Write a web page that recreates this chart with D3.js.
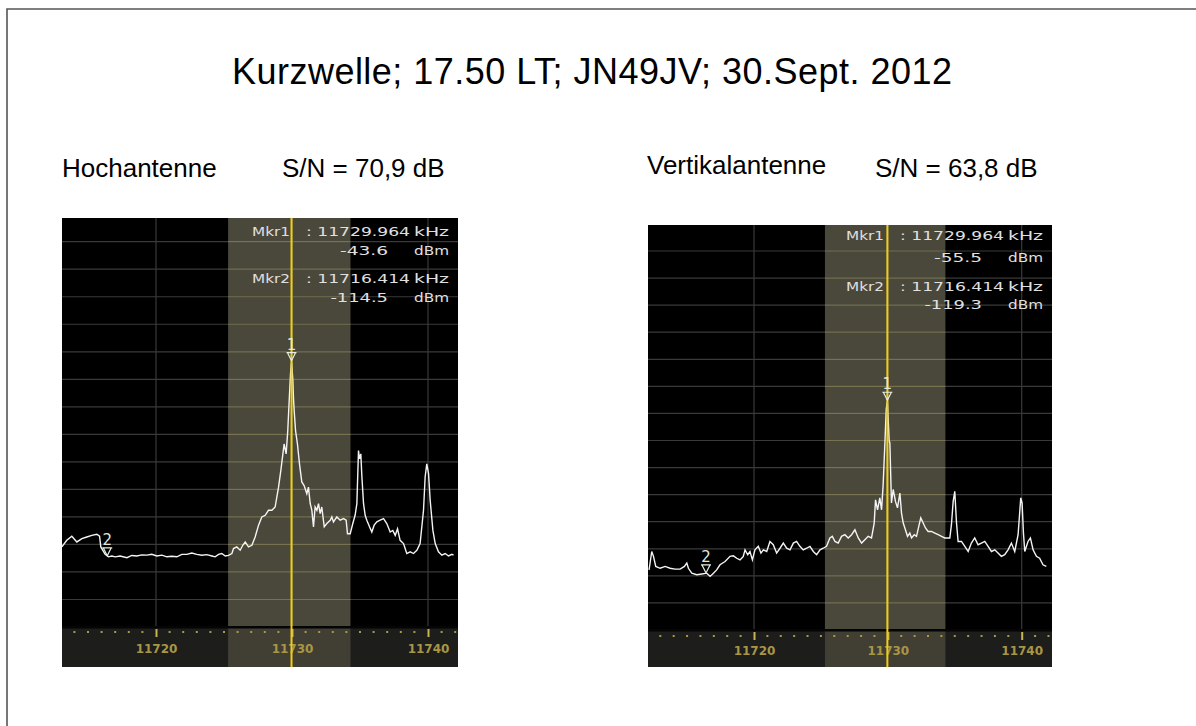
<!DOCTYPE html>
<html><head><meta charset="utf-8">
<script src="https://cdn.jsdelivr.net/npm/d3@7"></script>
<style>html,body{margin:0;padding:0;background:#fff;} svg{display:block;}</style>
</head><body><svg id="c" width="1196" height="726"></svg>
<script>
// ---------------- DATA ----------------
const titleText = "Kurzwelle; 17.50 LT; JN49JV; 30.Sept. 2012";
const antennaNames = ["Hochantenne", "Vertikalantenne"];
const snrLabels = ["S/N = 70,9 dB", "S/N = 63,8 dB"];
const tickKHz = [11720, 11730, 11740];
const gridDbm = [-130, -120, -110, -100, -90, -80, -70, -60, -50, -40, -30, -20, -10, 0];
const bandKHz = [11725.3, 11734.3];
const markerKHz = [11729.964, 11716.414];
const markerNames = ["1", "2"];
const hochMarkerDbm = [-43.6, -114.5];
const vertMarkerDbm = [-55.5, -119.3];
const markerIds = ["Mkr1", "Mkr2"];
const markerFreqText = [": 11729.964", ": 11716.414"];
const hochLevelText = ["-43.6", "-114.5"];
const vertLevelText = ["-55.5", "-119.3"];

const hochFreq = [11713.08,11713.44,11713.81,11714.18,11714.55,11714.91,11715.28,11715.65,11715.85,11715.94,
 11716.26,11716.51,11716.75,11717.00,11717.36,11717.86,11718.22,11718.59,11718.96,11719.33,
 11719.69,11720.06,11720.43,11720.80,11721.16,11721.53,11721.90,11722.27,11722.63,11723.00,
 11723.37,11723.74,11724.11,11724.35,11724.60,11724.84,11725.09,11725.33,11725.58,11725.70,
 11725.94,11726.19,11726.38,11726.56,11726.80,11727.05,11727.29,11727.54,11727.78,11728.03,
 11728.27,11728.52,11728.76,11729.01,11729.18,11729.33,11729.42,11729.57,11729.69,11729.82,
 11729.89,11729.964,11730.06,11730.11,11730.16,11730.26,11730.40,11730.55,11730.72,11730.89,
 11731.09,11731.21,11731.34,11731.46,11731.58,11731.70,11731.83,11731.95,11732.07,11732.19,
 11732.37,11732.56,11732.81,11732.93,11733.05,11733.30,11733.54,11733.79,11733.98,11734.08,
 11734.28,11734.47,11734.64,11734.77,11734.89,11734.96,11735.06,11735.14,11735.26,11735.38,
 11735.50,11735.70,11735.87,11736.04,11736.24,11736.48,11736.73,11736.97,11737.22,11737.41,
 11737.59,11737.76,11737.95,11738.20,11738.44,11738.69,11738.93,11739.18,11739.42,11739.67,
 11739.79,11739.91,11740.04,11740.16,11740.36,11740.53,11740.77,11741.02,11741.26,11741.51,
 11741.75,11741.88];
const hochLevel = [-110.9,-108.5,-107.0,-109.1,-107.9,-107.3,-106.7,-106.3,-107.0,-110.9,
 -113.6,-114.5,-114.2,-114.5,-114.2,-114.8,-114.0,-114.2,-113.8,-113.9,
 -113.6,-114.2,-113.9,-114.5,-114.3,-114.5,-113.6,-113.6,-113.1,-113.6,
 -113.9,-113.7,-114.2,-114.5,-113.6,-113.3,-114.2,-114.0,-113.3,-111.5,
 -110.9,-112.1,-110.3,-109.1,-110.9,-110.3,-107.3,-103.0,-100.0,-99.4,
 -97.6,-97.6,-96.4,-89.2,-83.1,-77.1,-73.5,-77.1,-68.6,-55.0,
 -48.0,-43.6,-50.0,-57.0,-61.4,-68.6,-73.5,-80.7,-87.3,-88.6,
 -91.6,-89.2,-95.2,-97.6,-103.6,-96.4,-97.6,-95.2,-98.8,-96.4,
 -103.6,-102.4,-101.2,-100.0,-101.8,-100.0,-101.2,-100.6,-101.2,-106.1,
 -106.1,-102.4,-99.4,-95.2,-75.9,-78.9,-77.1,-85.5,-95.2,-99.4,
 -101.2,-103.6,-105.5,-103.0,-101.8,-101.2,-100.6,-102.4,-105.5,-104.9,
 -106.7,-104.3,-108.5,-109.7,-113.3,-112.7,-113.3,-112.1,-109.7,-97.6,
 -85.5,-80.7,-84.3,-94.0,-104.9,-109.7,-112.7,-113.9,-113.3,-114.2,
 -113.6,-113.9];

const vertFreq = [11712.16,11712.36,11712.49,11712.66,11712.99,11713.36,11713.73,11714.10,11714.48,11714.80,
 11714.98,11715.10,11715.35,11715.72,11716.10,11716.47,11716.72,11716.97,11717.21,11717.46,
 11717.84,11718.21,11718.46,11718.71,11718.96,11719.20,11719.33,11719.53,11719.70,11719.88,
 11720.07,11720.32,11720.52,11720.70,11720.95,11721.19,11721.44,11721.69,11721.94,11722.19,
 11722.44,11722.69,11722.94,11723.18,11723.43,11723.68,11723.93,11724.18,11724.43,11724.68,
 11724.93,11725.17,11725.42,11725.67,11725.85,11726.05,11726.29,11726.54,11726.79,11727.04,
 11727.29,11727.54,11727.79,11728.04,11728.28,11728.53,11728.78,11728.98,11729.08,11729.23,
 11729.40,11729.53,11729.65,11729.78,11729.88,11729.964,11730.10,11730.15,11730.27,11730.40,
 11730.57,11730.72,11730.90,11731.02,11731.15,11731.27,11731.47,11731.64,11731.77,11731.97,
 11732.14,11732.31,11732.46,11732.64,11732.81,11733.01,11733.26,11733.51,11733.76,11734.01,
 11734.25,11734.63,11734.75,11734.88,11735.00,11735.13,11735.25,11735.50,11735.75,11736.00,
 11736.24,11736.49,11736.74,11736.99,11737.24,11737.49,11737.74,11737.99,11738.23,11738.48,
 11738.73,11738.98,11739.23,11739.48,11739.73,11739.93,11740.03,11740.13,11740.23,11740.47,
 11740.65,11740.85,11741.10,11741.34,11741.59,11741.84];
const vertLevel = [-117.8,-111.0,-112.8,-116.5,-117.2,-116.5,-117.2,-117.5,-117.5,-116.5,
 -115.3,-117.2,-119.0,-119.6,-119.3,-119.0,-120.2,-119.0,-117.8,-115.9,
 -114.7,-112.8,-112.6,-113.5,-114.1,-112.8,-110.4,-112.2,-111.0,-114.1,
 -110.4,-109.1,-111.6,-110.4,-111.0,-107.3,-108.5,-111.6,-109.8,-107.9,
 -109.8,-110.4,-107.9,-107.3,-109.1,-110.4,-109.8,-109.1,-111.0,-112.2,
 -110.4,-109.8,-109.1,-106.0,-105.4,-107.3,-107.9,-105.4,-104.8,-106.0,
 -104.8,-103.0,-106.0,-107.9,-106.7,-105.4,-106.0,-100.5,-91.9,-95.6,
 -91.2,-95.6,-86.3,-70.9,-58.5,-55.5,-70.2,-70.9,-93.1,-88.1,
 -92.5,-94.9,-89.4,-96.8,-100.5,-102.3,-105.4,-104.2,-106.0,-104.8,
 -105.4,-101.7,-98.6,-100.5,-102.3,-103.6,-103.6,-104.2,-104.8,-105.4,
 -106.0,-106.0,-101.1,-92.5,-88.8,-100.5,-107.3,-107.3,-109.1,-111.0,
 -107.9,-106.0,-108.5,-107.9,-107.3,-109.1,-111.0,-110.4,-111.6,-112.8,
 -112.2,-110.4,-107.9,-111.0,-104.8,-91.2,-93.1,-104.2,-111.0,-107.3,
 -106.0,-110.4,-112.8,-113.5,-115.9,-116.5];

// ---------------- LAYOUT ----------------
const svg = d3.select("#c");
svg.append("rect").attr("width", 1196).attr("height", 726).attr("fill", "#fff");
svg.append("path").attr("d", "M7,726 V9 H1196").attr("fill", "none")
  .attr("stroke", "#555").attr("stroke-width", 1.6);

svg.append("text").attr("x", 232).attr("y", 84).attr("textLength", 720)
  .attr("font-family", "'Liberation Sans', Arial, sans-serif").attr("font-size", 36)
  .attr("fill", "#000").text(titleText);

const panels = [
  { name: antennaNames[0], snr: snrLabels[0], nameX: 62, nameY: 177, snrX: 282, snrY: 177,
    x0: 62, x1: 458, top: 218, plotBottom: 627, bottom: 667,
    xr: [156, 428], yr: [627, 241.7], freq: hochFreq, level: hochLevel,
    mk: hochMarkerDbm, lvlText: hochLevelText, dotDy: 5, labDy: 26,
    lineY: [236, 255, 283, 302] },
  { name: antennaNames[1], snr: snrLabels[1], nameX: 647, nameY: 174, snrX: 875, snrY: 177,
    x0: 648, x1: 1052, top: 225, plotBottom: 630, bottom: 667,
    xr: [754, 1021.7], yr: [630, 251], freq: vertFreq, level: vertLevel,
    mk: vertMarkerDbm, lvlText: vertLevelText, dotDy: 6, labDy: 25,
    lineY: [240, 262, 291, 309] }
];

const sans = "'Liberation Sans', Arial, sans-serif";
const screenFont = "'DejaVu Sans', Verdana, sans-serif";

panels.forEach((p, pi) => {
  svg.append("text").attr("x", p.nameX).attr("y", p.nameY).attr("font-family", sans)
    .attr("font-size", 26).attr("fill", "#000").text(p.name);
  svg.append("text").attr("x", p.snrX).attr("y", p.snrY).attr("font-family", sans)
    .attr("font-size", 26).attr("fill", "#000").text(p.snr);

  const x = d3.scaleLinear().domain([tickKHz[0], tickKHz[2]]).range(p.xr);
  const y = d3.scaleLinear().domain([-140, 0]).range(p.yr);
  const g = svg.append("g");
  const clipId = "clip" + pi;
  svg.append("clipPath").attr("id", clipId).append("rect")
    .attr("x", p.x0).attr("y", p.top).attr("width", p.x1 - p.x0).attr("height", p.plotBottom - p.top);

  g.append("rect").attr("x", p.x0).attr("y", p.top).attr("width", p.x1 - p.x0)
    .attr("height", p.plotBottom - p.top).attr("fill", "#000");
  g.append("rect").attr("x", p.x0).attr("y", p.plotBottom).attr("width", p.x1 - p.x0)
    .attr("height", p.bottom - p.plotBottom).attr("fill", "#1d1d1b");
  const bx0 = x(bandKHz[0]), bx1 = x(bandKHz[1]);
  g.append("rect").attr("x", bx0).attr("y", p.top).attr("width", bx1 - bx0)
    .attr("height", p.plotBottom - p.top).attr("fill", "#4a483b");
  g.append("rect").attr("x", bx0).attr("y", p.plotBottom).attr("width", bx1 - bx0)
    .attr("height", p.bottom - p.plotBottom).attr("fill", "#413f34");
  g.append("rect").attr("x", p.x0).attr("y", p.plotBottom - 1).attr("width", p.x1 - p.x0)
    .attr("height", 2.5).attr("fill", "#050505");

  const gridG = g.append("g");
  gridDbm.forEach(v => {
    gridG.append("line").attr("x1", p.x0).attr("x2", p.x1).attr("y1", y(v)).attr("y2", y(v))
      .attr("stroke", "#3a3a3a").attr("stroke-width", 1.2);
    gridG.append("line").attr("x1", bx0).attr("x2", bx1).attr("y1", y(v)).attr("y2", y(v))
      .attr("stroke", "#777250").attr("stroke-width", 1.2);
  });
  tickKHz.forEach(t => {
    gridG.append("line").attr("x1", x(t)).attr("x2", x(t)).attr("y1", p.top).attr("y2", p.plotBottom - 1)
      .attr("stroke", (x(t) > bx0 && x(t) < bx1) ? "#777250" : "#3a3a3a").attr("stroke-width", 1.2);
  });

  const minor = d3.range(Math.ceil(x.invert(p.x0)), Math.floor(x.invert(p.x1)) + 1);
  g.selectAll(null).data(minor.filter(k => !tickKHz.includes(k))).enter().append("rect")
    .attr("x", k => x(k) - 1).attr("y", p.plotBottom + p.dotDy - 1).attr("width", 2).attr("height", 2)
    .attr("fill", "#a89848");
  const axis = d3.axisBottom(x).tickValues(tickKHz).tickFormat(d3.format("d")).tickSize(8).tickPadding(5);
  const ag = g.append("g").attr("transform", `translate(0,${p.plotBottom + 2})`).call(axis);
  ag.select(".domain").remove();
  ag.selectAll(".tick line").attr("stroke", "#c8b450").attr("stroke-width", 2);
  ag.selectAll(".tick text").attr("fill", "#a89645").attr("font-family", screenFont)
    .attr("font-weight", "bold").attr("font-size", 12)
    .attr("dy", null).attr("y", p.labDy - 2);

  const pts = p.freq.map((f, i) => [f, p.level[i]]);
  g.append("path").attr("clip-path", `url(#${clipId})`).datum(pts)
    .attr("d", d3.line().x(d => x(d[0])).y(d => y(d[1])))
    .attr("fill", "none").attr("stroke", "#f4f4f4").attr("stroke-width", 1.4)
    .attr("stroke-linejoin", "miter");

  // marker readouts
  const R = p.x1 - 9;
  const rd = g.append("g").attr("font-family", screenFont).attr("font-size", 12.5).attr("fill", "#e0e0e0");
  const put = (txt, x0, w, yy) => rd.append("text").attr("x", x0).attr("y", yy)
      .attr("textLength", w).attr("lengthAdjust", "spacingAndGlyphs").text(txt);
  [0, 1].forEach(m => {
    const yA = p.lineY[m * 2], yB = p.lineY[m * 2 + 1];
    put(markerIds[m], R - 197, 38, yA);
    put(markerFreqText[m], R - 143, 104, yA);
    put("kHz", R - 35, 35, yA);
    const lw = p.lvlText[m].length * 9.6;
    put(p.lvlText[m], R - 61 - lw, lw, yB);
    put("dBm", R - 35, 35, yB);
  });

  g.append("line").attr("x1", x(markerKHz[0])).attr("x2", x(markerKHz[0]))
    .attr("y1", p.top).attr("y2", p.bottom).attr("stroke", "#f0cc1c").attr("stroke-width", 2);

  markerKHz.forEach((mkf, i) => {
    const cx = x(mkf), cy = y(p.mk[i]) - 1;
    g.append("path").attr("d", `M${cx - 5},${cy - 8} H${cx + 5} M${cx - 4},${cy - 8} L${cx},${cy} L${cx + 4},${cy - 8}`)
      .attr("fill", "none").attr("stroke", "#e6eee6").attr("stroke-width", 1.2);
    g.append("text").attr("x", cx).attr("y", cy - 11).attr("text-anchor", "middle")
      .attr("font-family", screenFont).attr("font-size", 15).attr("fill", "#dfe8df").text(markerNames[i]);
  });
});
</script>
</body></html>
